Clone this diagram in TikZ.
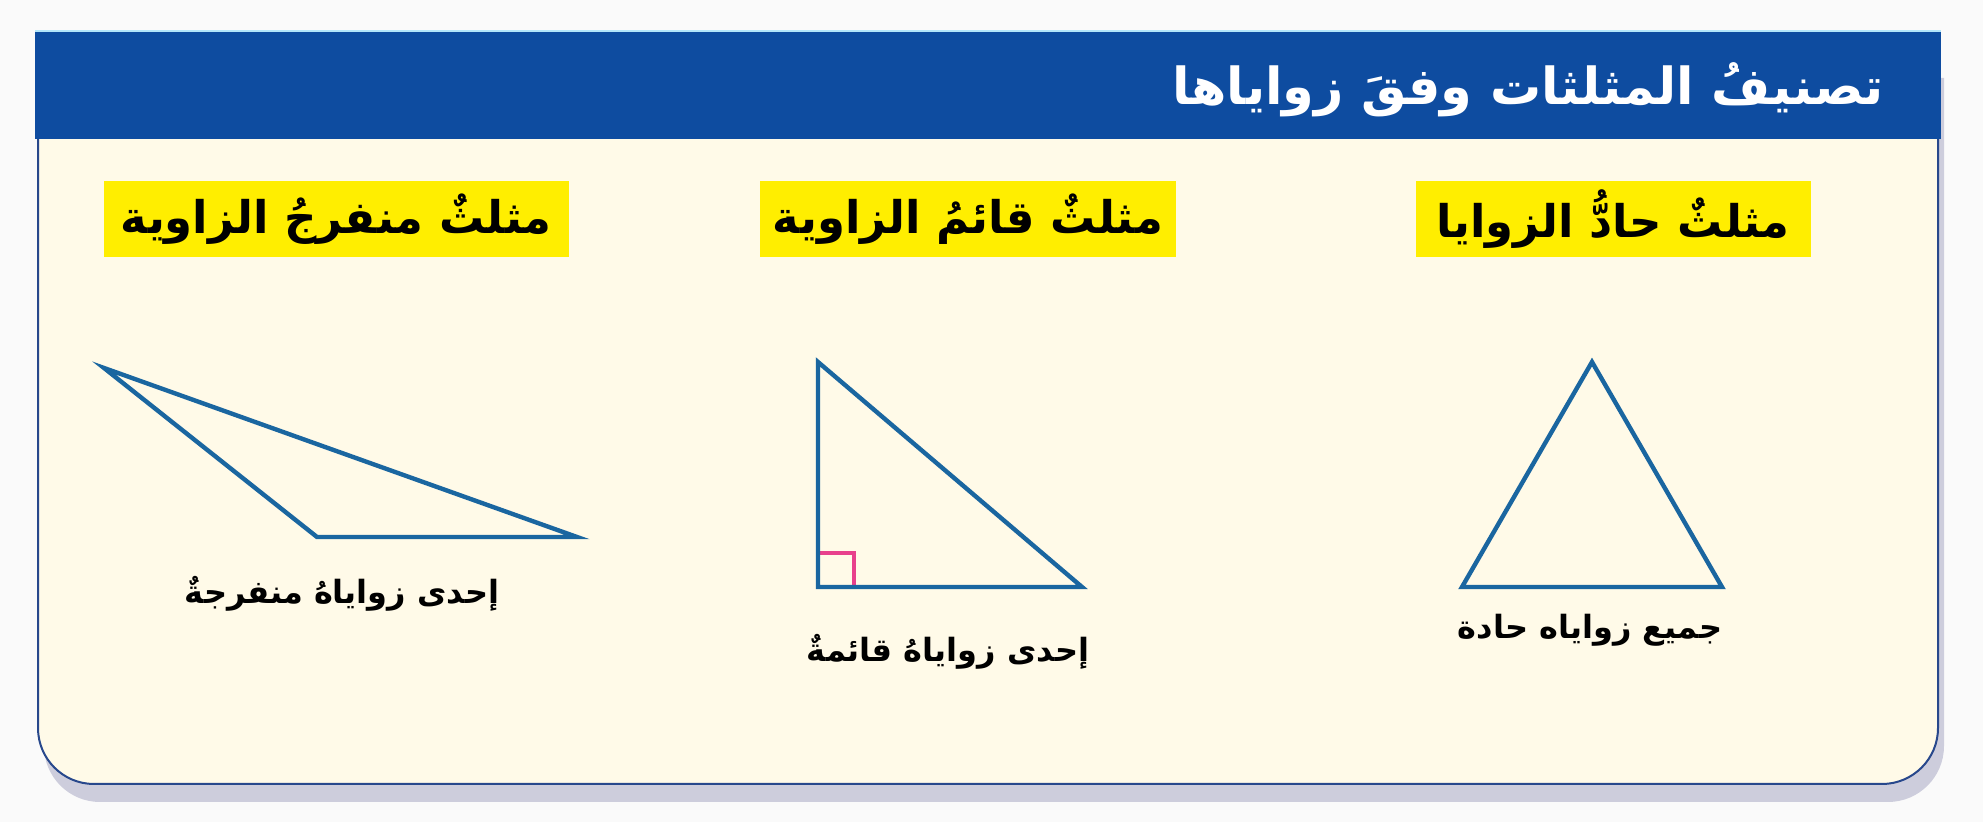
\documentclass[tikz,border=0pt]{standalone}
\usepackage{fontspec}
\newfontfamily\arabicfont[Script=Arabic]{DejaVu Sans}
\TeXXeTstate=1
\usetikzlibrary{shadows}
\definecolor{pagebg}{RGB}{250,250,250}
\definecolor{hdrblue}{RGB}{14,76,160}
\definecolor{cream}{RGB}{255,250,232}
\definecolor{hilite}{RGB}{255,238,0}
\definecolor{triblue}{RGB}{26,102,160}
\definecolor{rapink}{RGB}{232,64,140}
\definecolor{edgeblue}{RGB}{40,72,140}
\begin{document}
\begin{tikzpicture}[x=0.5pt,y=-0.5pt,
  titletext/.style={text=white,font=\arabicfont\bfseries\fontsize{25.5pt}{30pt}\selectfont,inner sep=0pt},
  hlbox/.style={fill=hilite,text=black,font=\arabicfont\bfseries\fontsize{22.5pt}{28pt}\selectfont,minimum height=38pt,inner sep=0pt},
  captext/.style={text=black,font=\arabicfont\bfseries\fontsize{16pt}{19pt}\selectfont,inner sep=0pt},
  tri/.style={draw=triblue,line width=2.2pt,line join=miter},
  ramark/.style={draw=rapink,line width=1.6pt}]
\useasboundingbox (0,0) rectangle (1983,822);
\fill[pagebg] (0,0) rectangle (1983,822);
% panel with shadow
\path[fill=cream,draw=edgeblue,line width=1pt,rounded corners=28pt,
  drop shadow={shadow xshift=3pt,shadow yshift=-9pt,opacity=0.3,fill=gray!80!blue}]
  (38,60) -- (38,784) -- (1938,784) -- (1938,60);
% header
\fill[hdrblue] (35,32) rectangle (1941,139);
\draw[cyan!30,line width=0.8pt] (35,31) -- (1941,31);
\node[titletext,anchor=east] (title) at (1884,90) {\beginR تصنيفُ المثلثات وفقَ زواياها\endR};
% labels
\node[hlbox,minimum width=197.5pt] (lab1) at (1613,219) {\beginR مثلثٌ حادُّ الزوايا\endR};
\node[hlbox,minimum width=208pt] (lab2) at (968,219) {\beginR مثلثٌ قائمُ الزاوية\endR};
\node[hlbox,minimum width=232.5pt] (lab3) at (336,219) {\beginR مثلثٌ منفرجُ الزاوية\endR};
% acute triangle
\coordinate (a1) at (1592,362);
\coordinate (a2) at (1462,587);
\coordinate (a3) at (1722,587);
\draw[tri] (a1) -- (a2) -- (a3) -- cycle;
\node[captext] (cap1) at (1590,630) {\beginR جميع زواياه حادة\endR};
% right triangle
\coordinate (r1) at (818,362);
\coordinate (r2) at (818,587);
\coordinate (r3) at (1082,587);
\coordinate (rm) at (854,553);
\draw[ramark] (r2 |- rm) -- (rm) -- (rm |- r2);
\draw[tri] (r1) -- (r2) -- (r3) -- cycle;
\node[captext] (cap2) at (948,652) {\beginR إحدى زواياهُ قائمةٌ\endR};
% obtuse triangle
\coordinate (o1) at (104,368);
\coordinate (o2) at (317,537);
\coordinate (o3) at (577,537);
\draw[tri] (o1) -- (o2) -- (o3) -- cycle;
\node[captext] (cap3) at (342,594) {\beginR إحدى زواياهُ منفرجةٌ\endR};
\end{tikzpicture}
\end{document}
